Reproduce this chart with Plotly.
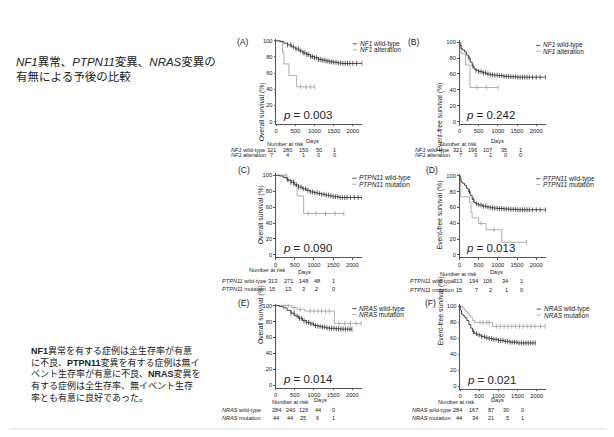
import numpy as np
import plotly.graph_objects as go

# The page body has an 8px margin, so the figure is drawn 8px smaller and all
# reference pixel positions are shifted by OFF.
OFF = 8
W, H = 614 - OFF, 437 - OFF

# ---------------- data ----------------
x_ticks = [0, 500, 1000, 1500, 2000]
y_ticks = [0, 20, 40, 60, 80, 100]

# (A) OS by NF1
nf1_wt_os_t = [0, 100, 200, 300, 400, 500, 600, 700, 800, 900, 1000, 1100, 1200, 1300, 1400, 1500, 1600, 1700, 2240]
nf1_wt_os_s = [100, 99, 97, 95, 92.5, 90, 87.5, 85, 83, 80.5, 79, 77, 76, 75, 74, 73.5, 72.5, 72, 72]
nf1_wt_os_c = [300, 380, 450, 520, 580, 640, 700, 750, 800, 850, 900, 950, 1000, 1050, 1100, 1150, 1200, 1250,
               1300, 1350, 1400, 1450, 1500, 1560, 1620, 1680, 1740, 1800, 1860, 1920, 2000, 2100, 2240]
nf1_alt_os_t = [0, 170, 205, 335, 535, 1005]
nf1_alt_os_s = [100, 85.7, 71.4, 57.1, 42.9, 42.9]
nf1_alt_os_c = [640, 780, 900, 1005]
nf1_wt_os_risk = [321, 280, 150, 50, 1]
nf1_alt_os_risk = [7, 4, 1, 0, 0]

# (B) EFS by NF1
nf1_wt_efs_t = [0, 15, 40, 80, 130, 180, 230, 280, 330, 380, 430, 500, 600, 700, 800, 900, 1000, 1150, 1300, 1500, 2240]
nf1_wt_efs_s = [100, 96, 92, 90.5, 88, 84, 80, 75, 70, 66, 64.5, 63, 61.5, 60, 59, 58.5, 58, 57, 56.5, 56, 56]
nf1_wt_efs_c = [250, 350, 430, 500, 560, 620, 680, 740, 800, 860, 920, 980, 1040, 1100, 1160, 1220, 1280, 1340,
                1400, 1460, 1520, 1580, 1640, 1700, 1760, 1820, 1900, 2000, 2100, 2240]
nf1_alt_efs_t = [0, 44, 158, 272, 1008]
nf1_alt_efs_s = [100, 85.7, 71.4, 42.9, 42.9]
nf1_alt_efs_c = [450, 700, 1008]
nf1_wt_efs_risk = [321, 196, 107, 35, 1]
nf1_alt_efs_risk = [7, 3, 1, 0, 0]

# (C) OS by PTPN11
ptpn_wt_os_t = [0, 100, 200, 300, 400, 500, 600, 700, 800, 900, 1000, 1100, 1200, 1300, 1400, 1500, 1650, 2250]
ptpn_wt_os_s = [100, 99, 97, 94, 91, 88, 85, 83, 81, 79, 78, 77, 76, 75, 74, 73, 72, 72]
ptpn_wt_os_c = [320, 400, 470, 540, 600, 660, 720, 780, 840, 900, 960, 1020, 1080, 1140, 1200, 1260, 1320, 1380,
                1440, 1500, 1560, 1620, 1680, 1740, 1800, 1860, 1950, 2050, 2150, 2250]
ptpn_mut_os_t = [0, 300, 470, 560, 730, 1780]
ptpn_mut_os_s = [100, 93.3, 86.7, 74, 52, 52]
ptpn_mut_os_c = [250, 850, 1050, 1300, 1550, 1780]
ptpn_wt_os_risk = [313, 271, 148, 48, 1]
ptpn_mut_os_risk = [15, 13, 3, 2, 0]

# (D) EFS by PTPN11
ptpn_wt_efs_t = [0, 15, 40, 80, 130, 180, 230, 280, 330, 380, 430, 500, 600, 700, 800, 900, 1000, 1150, 1300, 1500, 2240]
ptpn_wt_efs_s = [100, 96, 92, 90.5, 88, 84, 80, 75, 70, 66, 64.5, 63, 61.5, 60.5, 59.5, 59, 58.5, 58, 57.5, 57, 57]
ptpn_wt_efs_c = [260, 360, 440, 500, 560, 620, 680, 740, 800, 860, 920, 980, 1040, 1100, 1160, 1220, 1280, 1340,
                 1400, 1460, 1520, 1580, 1640, 1700, 1760, 1820, 1900, 2000, 2100, 2240]
ptpn_mut_efs_t = [0, 30, 260, 300, 330, 500, 690, 1100, 1740]
ptpn_mut_efs_s = [100, 73.3, 66.7, 53.3, 46.7, 39.6, 31.7, 15.8, 15.8]
ptpn_mut_efs_c = [560, 900, 1740]
ptpn_wt_efs_risk = [313, 194, 106, 34, 1]
ptpn_mut_efs_risk = [15, 7, 2, 1, 0]

# (E) OS by NRAS
nras_wt_os_t = [0, 100, 200, 300, 400, 500, 600, 700, 800, 900, 1000, 1100, 1200, 1300, 1400, 1550, 1700, 1990]
nras_wt_os_s = [100, 99, 97, 94, 90.5, 87, 84, 81, 79, 77, 75, 74, 73, 72, 71.5, 71, 70.5, 70.5]
nras_wt_os_c = [400, 480, 560, 620, 680, 740, 800, 860, 920, 980, 1040, 1100, 1160, 1220, 1280, 1340, 1400,
                1460, 1520, 1580, 1640, 1700, 1760, 1820, 1880, 1940, 1990]
nras_mut_os_t = [0, 420, 560, 760, 1530, 2230]
nras_mut_os_s = [100, 97.7, 95.4, 93.1, 77.6, 77.6]
nras_mut_os_c = [250, 330, 480, 640, 900, 1000, 1100, 1200, 1300, 1400, 1650, 1800, 1950, 2100, 2230]
nras_wt_os_risk = [284, 240, 126, 44, 0]
nras_mut_os_risk = [44, 44, 25, 6, 1]

# (F) EFS by NRAS
nras_wt_efs_t = [0, 15, 40, 80, 130, 180, 230, 280, 330, 380, 450, 550, 650, 750, 850, 1000, 1150, 1300, 1500, 1960]
nras_wt_efs_s = [100, 95, 90, 88, 85.5, 82, 77, 72.5, 68, 65.5, 64, 62, 60.5, 59.5, 58.5, 57, 56, 55, 54, 54]
nras_wt_efs_c = [350, 430, 500, 570, 640, 700, 760, 820, 880, 940, 1000, 1060, 1120, 1180, 1240, 1300, 1360,
                 1420, 1480, 1540, 1600, 1660, 1720, 1780, 1840, 1900, 1960]
nras_mut_efs_t = [0, 60, 110, 150, 200, 240, 280, 330, 380, 850, 2220]
nras_mut_efs_s = [100, 97.7, 95.4, 93.1, 90.8, 88.5, 86.2, 82, 79.5, 74.8, 74.8]
nras_mut_efs_c = [520, 600, 700, 760, 950, 1050, 1150, 1250, 1350, 1450, 1550, 1650, 1750, 1850, 1950, 2100, 2220]
nras_wt_efs_risk = [284, 167, 87, 30, 0]
nras_mut_efs_risk = [44, 34, 21, 5, 1]

p_values = ["0.003", "0.242", "0.090", "0.013", "0.014", "0.021"]
panel_letters = ["(A)", "(B)", "(C)", "(D)", "(E)", "(F)"]
genes = ["NF1", "NF1", "PTPN11", "PTPN11", "NRAS", "NRAS"]
group2_names = ["alteration", "alteration", "mutation", "mutation", "mutation", "mutation"]
y_titles = ["Overall survival (%)", "Event-free survival (%)"] * 3

curves = [
    (nf1_wt_os_t, nf1_wt_os_s, nf1_wt_os_c, nf1_alt_os_t, nf1_alt_os_s, nf1_alt_os_c, nf1_wt_os_risk, nf1_alt_os_risk),
    (nf1_wt_efs_t, nf1_wt_efs_s, nf1_wt_efs_c, nf1_alt_efs_t, nf1_alt_efs_s, nf1_alt_efs_c, nf1_wt_efs_risk, nf1_alt_efs_risk),
    (ptpn_wt_os_t, ptpn_wt_os_s, ptpn_wt_os_c, ptpn_mut_os_t, ptpn_mut_os_s, ptpn_mut_os_c, ptpn_wt_os_risk, ptpn_mut_os_risk),
    (ptpn_wt_efs_t, ptpn_wt_efs_s, ptpn_wt_efs_c, ptpn_mut_efs_t, ptpn_mut_efs_s, ptpn_mut_efs_c, ptpn_wt_efs_risk, ptpn_mut_efs_risk),
    (nras_wt_os_t, nras_wt_os_s, nras_wt_os_c, nras_mut_os_t, nras_mut_os_s, nras_mut_os_c, nras_wt_os_risk, nras_mut_os_risk),
    (nras_wt_efs_t, nras_wt_efs_s, nras_wt_efs_c, nras_mut_efs_t, nras_mut_efs_s, nras_mut_efs_c, nras_wt_efs_risk, nras_mut_efs_risk),
]

# ---------------- layout (reference pixel positions) ----------------
geo = [
    dict(x0=275, y0=121, y100=40, lab=(242, 35), rowlab=229, riskx=[270, 286, 302, 318, 334],
         rows=(146, 155), nar=(284, 140), days=(311.5, 137)),
    dict(x0=459, y0=121, y100=41.5, lab=(420, 35), rowlab=413, riskx=[463, 478, 493, 508, 523],
         rows=(146, 155), nar=(477.5, 140), days=(505, 137)),
    dict(x0=274.5, y0=255, y100=175, lab=(243, 170), rowlab=220, riskx=[271, 287, 302, 316, 333],
         rows=(281, 289.5), nar=(266, 270), days=(303, 272.5)),
    dict(x0=459, y0=255, y100=175.5, lab=(438, 170), rowlab=408, riskx=[463, 479, 493, 509, 524],
         rows=(281.5, 290), nar=(478, 274), days=(504, 272.5)),
    dict(x0=274.5, y0=386, y100=306, lab=(243, 309), rowlab=220, riskx=[275, 289, 302, 317, 333],
         rows=(414.5, 423), nar=(289, 406.5), days=(320, 405)),
    dict(x0=459.5, y0=387, y100=306.5, lab=(436, 309), rowlab=410, riskx=[463, 479, 495, 510, 525],
         rows=(414.5, 423), nar=(476, 407), days=(505, 405)),
]
PX_PER_DAY = 0.0385
XMAX = 2250

WT_COL = "#222222"
MUT_COL = "#9a9a9a"
TXT = "#222222"
FAM = "Liberation Sans, Arial, sans-serif"
TICKF = dict(family=FAM, size=5.8, color=TXT)
TABF = dict(family=FAM, size=5.6, color=TXT)
LEGF = dict(family=FAM, size=6.5, color=TXT)
YTF = dict(family=FAM, size=6.8, color=TXT)
JP = "Liberation Sans, Noto Sans CJK JP, sans-serif"


def px(x):
    return (x - OFF) / W


def py(y):
    return 1 - (y - OFF) / H


def step_at(t, s, c):
    t = np.asarray(t, float)
    s = np.asarray(s, float)
    idx = np.searchsorted(t, np.asarray(c, float), side="right") - 1
    return s[np.clip(idx, 0, len(s) - 1)]


def note(text, x, y, font, **kw):
    d = dict(text=text, x=px(x), y=py(y), xref="paper", yref="paper", showarrow=False, font=font,
             borderpad=0)
    d.update(kw)
    return d


fig = go.Figure()
annotations = []
shapes = []

for i, (g, cv) in enumerate(zip(geo, curves)):
    wt_t, wt_s, wt_c, mu_t, mu_s, mu_c, wt_r, mu_r = cv
    n = i + 1
    xa = "x" if n == 1 else f"x{n}"
    ya = "y" if n == 1 else f"y{n}"
    x0, y0, y100 = g["x0"], g["y0"], g["y100"]
    k = (y0 - y100) / 100.0
    yb = y0 + 2.5
    yt = y100 - 2
    x_dom = [px(x0), px(x0 + XMAX * PX_PER_DAY)]
    y_dom = [py(yb), py(yt)]
    axcommon = dict(showgrid=False, zeroline=False, showline=True, linecolor="#555", linewidth=0.7,
                    ticks="outside", ticklen=1.5, tickwidth=0.6, tickcolor="#555",
                    tickfont=TICKF, fixedrange=True)
    fig.update_layout(**{
        ("xaxis" if n == 1 else f"xaxis{n}"): dict(domain=x_dom, range=[0, XMAX], tickvals=x_ticks,
                                                   anchor=ya, **axcommon),
        ("yaxis" if n == 1 else f"yaxis{n}"): dict(domain=y_dom, range=[-2.5 / k, 100 + 2 / k],
                                                   tickvals=y_ticks, anchor=xa, **axcommon),
    })

    for (tt, ss, cc, col) in [(mu_t, mu_s, mu_c, MUT_COL), (wt_t, wt_s, wt_c, WT_COL)]:
        fig.add_trace(go.Scatter(x=tt, y=ss, mode="lines", line=dict(shape="hv", color=col, width=0.8),
                                 xaxis=xa, yaxis=ya, showlegend=False, hoverinfo="skip"))
        fig.add_trace(go.Scatter(x=cc, y=step_at(tt, ss, cc), mode="markers",
                                 marker=dict(symbol="line-ns", size=3.5, line=dict(width=0.7, color=col)),
                                 xaxis=xa, yaxis=ya, showlegend=False, hoverinfo="skip"))

    annotations.append(note(panel_letters[i], g["lab"][0], g["lab"][1], dict(family=FAM, size=8.5, color=TXT)))
    annotations.append(note(y_titles[i], x0 - 14.5, (y0 + y100) / 2, YTF, textangle=-90))
    annotations.append(note(f"<i>p</i> = {p_values[i]}", x0 + 6, y0 - 6.5, dict(family=FAM, size=11.5, color=TXT),
                            xanchor="left", yanchor="middle"))
    gene = genes[i]
    labels = [f"<i>{gene}</i> wild-type", f"<i>{gene}</i> {group2_names[i]}"]
    for j, (lbl, col) in enumerate(zip(labels, [WT_COL, MUT_COL])):
        yy = y100 + 3 + 6 * j
        shapes.append(dict(type="line", xref="paper", yref="paper", x0=px(x0 + 77), x1=px(x0 + 81),
                           y0=py(yy), y1=py(yy), line=dict(color=col, width=0.8)))
        annotations.append(note(lbl, x0 + 83, yy, LEGF, xanchor="left", yanchor="middle"))
    annotations.append(note("Number at risk", g["nar"][0], g["nar"][1], TABF))
    annotations.append(note("Days", g["days"][0], g["days"][1], TABF))
    for j, (lbl, risk) in enumerate(zip(labels, [wt_r, mu_r])):
        ry = g["rows"][j]
        annotations.append(note(lbl, g["rowlab"], ry, TABF, xanchor="left"))
        for rx, v in zip(g["riskx"], risk):
            annotations.append(note(str(v), rx, ry, TABF))

# ---------------- Japanese texts ----------------
title_lines = ["<i>NF1</i>異常、<i>PTPN11</i>変異、<i>NRAS</i>変異の", "有無による予後の比較"]
for line, yy in zip(title_lines, [61, 75.5]):
    annotations.append(note(line, 13, yy, dict(family=JP, size=11.5, color="#222"), xanchor="left", yanchor="middle"))

summary_lines = [
    "<b>NF1</b>異常を有する症例は全生存率が有意",
    "に不良、<b>PTPN11</b>変異を有する症例は無イ",
    "ベント生存率が有意に不良、<b>NRAS</b>変異を",
    "有する症例は全生存率、無イベント生存",
    "率とも有意に良好であった。",
]
annotations.append(note("<br>".join(summary_lines), 28, 344.5, dict(family=JP, size=9, color="#222"),
                        xanchor="left", yanchor="top", align="left"))

shapes.append(dict(type="line", xref="paper", yref="paper", x0=0, x1=1, y0=py(430), y1=py(430),
                   line=dict(color="#e2e2e2", width=1)))

fig.update_layout(width=W, height=H, autosize=False, margin=dict(l=0, r=0, t=0, b=0),
                  paper_bgcolor="white", plot_bgcolor="white", showlegend=False,
                  annotations=annotations, shapes=shapes)

fig.write_html("out.html", config={"displayModeBar": False})
